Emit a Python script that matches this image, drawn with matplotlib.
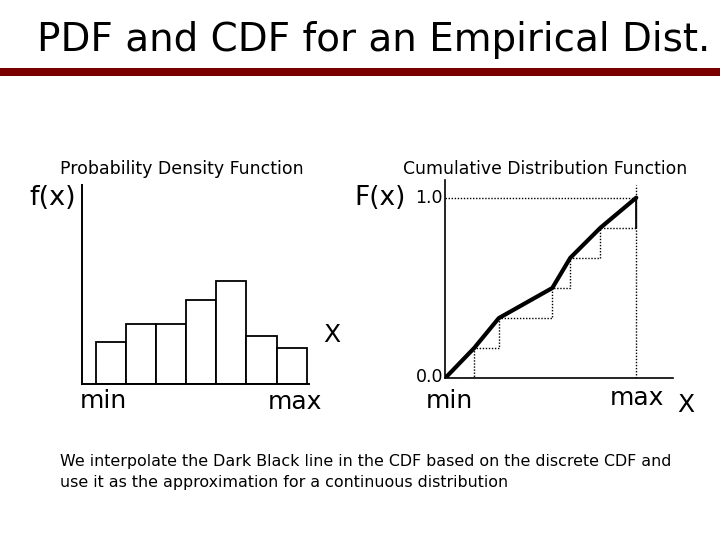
import matplotlib
matplotlib.use("Agg")
from matplotlib import pyplot as plt

# PDF (histogram) data
bins = [0, 1, 2, 3, 4, 5, 6]
counts = [7, 10, 10, 14, 17, 8, 6]

# CDF data (x normalised between min and max)
cdf_x = [0, 0.152, 0.281, 0.561, 0.655, 0.812, 1.0]
cdf_y = [0, 0.167, 0.333, 0.5, 0.667, 0.833, 1.0]

W, H = 720, 540
plt.rcParams["font.family"] = ["DejaVu Sans"]


def fx(x):
    return x / W


def fy(y):
    return 1 - y / H


def box(l, t, r, b):
    return [fx(l), fy(b), (r - l) / W, (b - t) / H]


fig = plt.figure(figsize=(7.2, 5.4), dpi=100)

# title and red rule
fig.text(fx(37), fy(51), "PDF and CDF for an Empirical Dist.", fontsize=28,
         ha="left", va="baseline")
band = fig.add_axes(box(0, 68, 720, 76))
band.set_axis_off()
band.axhspan(0, 1, color="#7a0000")
band.set_xlim(0, 1)
band.set_ylim(0, 1)

# PDF
ax1 = fig.add_axes(box(81.7, 185, 309, 384))
ax1.bar(bins, counts, width=1, align="edge", color="white", edgecolor="black", lw=1.3)
ax1.set_xlim(-0.475, 7.08)
ax1.set_ylim(0, 33)
for s in ["top", "right"]:
    ax1.spines[s].set_visible(False)
for s in ["left", "bottom"]:
    ax1.spines[s].set_linewidth(1.4)
ax1.set_xticks([])
ax1.set_yticks([])

# CDF
ax2 = fig.add_axes(box(445, 180, 673, 378.3))
dot = (0, (1, 1.2))
ax2.step(cdf_x, cdf_y, where="post", color="black", lw=1, ls=dot)
ax2.plot([0, cdf_x[-1]], [1, 1], color="black", lw=1, ls=dot)
ax2.plot([cdf_x[-1], cdf_x[-1]], [0, 1.07], color="black", lw=1, ls=dot)
ax2.plot([cdf_x[-1], cdf_x[-1]], [cdf_y[-2], cdf_y[-1]], color="black", lw=1.2)
ax2.plot(cdf_x, cdf_y, color="black", lw=3, solid_capstyle="round")
ax2.set_xlim(0, 1.192)
ax2.set_ylim(0, 1.098)
for s in ["top", "right"]:
    ax2.spines[s].set_visible(False)
for s in ["left", "bottom"]:
    ax2.spines[s].set_linewidth(1.2)
ax2.set_xticks([])
ax2.set_yticks([])

# labels
fig.text(fx(60), fy(174), "Probability Density Function", fontsize=12.5, va="baseline")
fig.text(fx(403), fy(174), "Cumulative Distribution Function", fontsize=12.4, va="baseline")
fig.text(fx(29), fy(198), "f(x)", fontsize=19.5, va="center")
fig.text(fx(354), fy(198), "F(x)", fontsize=19, va="center")
fig.text(fx(443), fy(198), "1.0", fontsize=12.5, ha="right", va="center")
fig.text(fx(443), fy(377), "0.0", fontsize=12.5, ha="right", va="center")
fig.text(fx(332), fy(335), "X", fontsize=18, ha="center", va="center")
fig.text(fx(103), fy(401), "min", fontsize=18, ha="center", va="center")
fig.text(fx(295), fy(402), "max", fontsize=18, ha="center", va="center")
fig.text(fx(449), fy(401), "min", fontsize=18, ha="center", va="center")
fig.text(fx(637), fy(398), "max", fontsize=18, ha="center", va="center")
fig.text(fx(686), fy(405), "X", fontsize=18, ha="center", va="center")
fig.text(fx(60), fy(466),
         "We interpolate the Dark Black line in the CDF based on the discrete CDF and",
         fontsize=11.4, va="baseline")
fig.text(fx(60), fy(487),
         "use it as the approximation for a continuous distribution",
         fontsize=11.4, va="baseline")

fig.savefig("out.png", dpi=100)
